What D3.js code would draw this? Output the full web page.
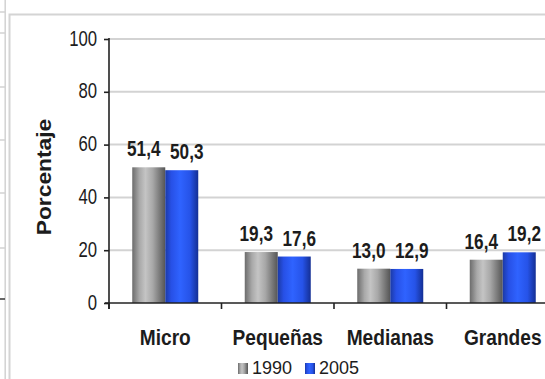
<!DOCTYPE html>
<html>
<head>
<meta charset="utf-8">
<script src="https://cdn.jsdelivr.net/npm/d3@7"></script>
<style>
  html, body { margin: 0; padding: 0; background: #fff; }
  svg { display: block; }
  text { font-family: "Liberation Sans", Arial, sans-serif; fill: #1c1c1c; }
</style>
</head>
<body>
<svg id="chart" width="545" height="379"></svg>
<script>
// Company size categories and their share (%) in each year
const categories = ["Micro", "Pequeñas", "Medianas", "Grandes"];
const years = ["1990", "2005"];
const values1990 = [51.4, 19.3, 13.0, 16.4];
const values2005 = [50.3, 17.6, 12.9, 19.2];
const yTicks = [0, 20, 40, 60, 80, 100];
const yTitle = "Porcentaje";

const seriesValues = { "1990": values1990, "2005": values2005 };
const fmt = v => d3.format(".1f")(v).replace(".", ",");

const W = 545, H = 379;
const svg = d3.select("#chart");

const margin = { left: 109, top: 39, bottom: 303 };
const y = d3.scaleLinear().domain([0, 100]).range([margin.bottom, margin.top]);
const x0 = d3.scaleBand().domain(categories).range([margin.left, 559]).padding(0);
const groupW = 66;
const x1 = d3.scaleBand().domain(years).range([0, groupW]).padding(0);

// Horizontal bar shading (cylindrical look)
const defs = svg.append("defs");
function hGrad(id, stops) {
  const g = defs.append("linearGradient").attr("id", id)
    .attr("x1", "0%").attr("x2", "100%").attr("y1", "0%").attr("y2", "0%");
  stops.forEach(([o, c]) => g.append("stop").attr("offset", o).attr("stop-color", c));
}
hGrad("g1990", [["0%", "#6c6c6c"], ["22%", "#a9a9a9"], ["40%", "#c4c4c4"], ["62%", "#a8a8a8"], ["100%", "#555555"]]);
hGrad("g2005", [["0%", "#1b3aa6"], ["18%", "#2750e6"], ["45%", "#2f63ff"], ["75%", "#2653e8"], ["100%", "#142f94"]]);
const fillFor = { "1990": "url(#g1990)", "2005": "url(#g2005)" };

// Text helper: squeezes/stretches glyphs along the writing direction
function label(parent, x, yy, txt, opt) {
  const g = parent.append("g")
    .attr("transform", `translate(${x},${yy})` + (opt.rotate ? ` rotate(${opt.rotate})` : ""));
  g.append("text")
    .attr("transform", `scale(${opt.sx || 1},1)`)
    .attr("text-anchor", opt.anchor || "middle")
    .attr("font-size", opt.size)
    .attr("font-weight", opt.weight || "normal")
    .text(txt);
  return g;
}

// Neighbouring panel edge on the far left
const edge = svg.append("g").attr("stroke", "#d2d2d2").attr("stroke-width", 1.5);
edge.append("line").attr("x1", 5.2).attr("x2", 5.2).attr("y1", 0).attr("y2", H);
[12, 33, 87, 140, 193, 248].forEach(v =>
  edge.append("line").attr("x1", 0).attr("x2", 5).attr("y1", v).attr("y2", v));
svg.append("line").attr("x1", 0).attr("x2", 5).attr("y1", 299).attr("y2", 299)
  .attr("stroke", "#333").attr("stroke-width", 1.5);

// Chart area frame
const frame = svg.append("g").attr("stroke", "#d4d4d4").attr("stroke-width", 2).attr("fill", "none");
frame.append("path").attr("d", `M9.5,${H} V14.5 H${W}`);

// Gridlines
svg.append("g").selectAll("line").data(yTicks.filter(t => t > 0)).join("line")
  .attr("x1", margin.left).attr("x2", W)
  .attr("y1", d => y(d)).attr("y2", d => y(d))
  .attr("stroke", "#d3d3d3").attr("stroke-width", 2);

// Bars
const groups = svg.append("g").selectAll("g").data(categories).join("g")
  .attr("transform", c => `translate(${x0(c) + (x0.bandwidth() - groupW) / 2},0)`);
groups.selectAll("rect").data((c, i) => years.map(s => ({ s, v: seriesValues[s][i] }))).join("rect")
  .attr("x", d => x1(d.s))
  .attr("y", d => y(d.v))
  .attr("width", x1.bandwidth())
  .attr("height", d => y(0) - y(d.v))
  .attr("fill", d => fillFor[d.s]);

// Value labels
groups.each(function (c, i) {
  const g = d3.select(this);
  years.forEach(s => {
    const v = seriesValues[s][i];
    const cx = x1(s) + x1.bandwidth() / 2 + (s === "1990" ? -5 : 5);
    label(g, cx, y(v) - 11, fmt(v), { size: 22, weight: "bold", sx: 0.78 });
  });
});

// Y axis
const yAxis = svg.append("g").attr("transform", `translate(${margin.left},0)`)
  .call(d3.axisLeft(y).tickValues(yTicks).tickSize(5).tickSizeOuter(0));
yAxis.select(".domain").attr("stroke", "#222").attr("stroke-width", 1.6)
  .attr("d", `M0,${margin.top - 1}V${margin.bottom + 6}`);
yAxis.selectAll(".tick line").attr("stroke", "#222").attr("stroke-width", 1.6);
yAxis.selectAll(".tick text").remove();
yAxis.selectAll(".tick").each(function (d) {
  label(d3.select(this), -12, 6, String(d), { size: 22, sx: 0.76, anchor: "end" });
});

// X axis
const xAxis = svg.append("g");
xAxis.append("line").attr("x1", margin.left - 4).attr("x2", W)
  .attr("y1", y(0)).attr("y2", y(0)).attr("stroke", "#222").attr("stroke-width", 1.6);
xAxis.selectAll("line.tk").data(categories).join("line").attr("class", "tk")
  .attr("x1", c => x0(c)).attr("x2", c => x0(c))
  .attr("y1", y(0)).attr("y2", y(0) + 6).attr("stroke", "#222").attr("stroke-width", 1.6);
categories.forEach(c => {
  label(xAxis, x0(c) + x0.bandwidth() / 2, 345, c, { size: 22, weight: "bold", sx: 0.87 });
});

// Y axis title
label(svg, 51, 177, yTitle, { size: 20, weight: "bold", sx: 1.14, rotate: -90 });

// Legend
const legend = svg.append("g");
const legendX = { "1990": 238, "2005": 305 };
years.forEach(s => {
  legend.append("rect").attr("x", legendX[s]).attr("y", 363).attr("width", 10).attr("height", 11)
    .attr("fill", fillFor[s]);
  label(legend, legendX[s] + 14, 374, s, { size: 18, sx: 1.0, anchor: "start" });
});
</script>
</body>
</html>
